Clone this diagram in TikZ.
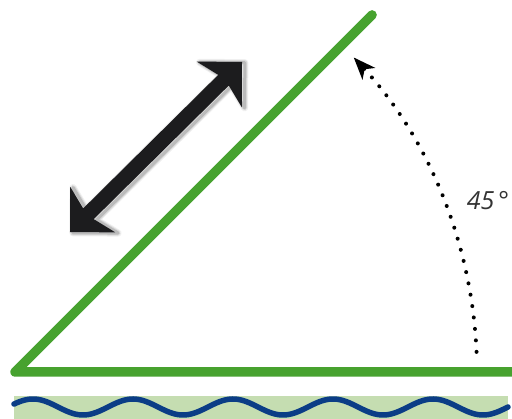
\documentclass[tikz,border=0pt]{standalone}
\usepackage{fontspec}
\setsansfont{Open Sans}
\usetikzlibrary{arrows.meta}
\definecolor{legGreen}{HTML}{47A22F}
\definecolor{bandGreen}{HTML}{C5DDB1}
\definecolor{waveBlue}{HTML}{0B3D86}
\definecolor{arrowBlack}{HTML}{1C1C1E}

\begin{document}
\begin{tikzpicture}[x=1pt,y=1pt,every node/.style={font=\sffamily\itshape}]
	\useasboundingbox (0,0) rectangle (512,419);
	\coordinate (O) at (15,47);
	% water strip
	\fill[bandGreen] (14,0) rectangle (508,23);
	\draw[waveBlue, line width=5.5pt, line cap=round] plot[domain=14:508, samples=200] (\x,{12+8*sin(3.6*(\x-8))});
	% the two legs
	\draw[legGreen, line width=9.5pt, line cap=round, line join=round] (512,47) -- (O) -- ++(45:505);
	% double arrow, with a soft shadow
	\begin{scope}[shift={(156,272)}, rotate=44.7]
		\foreach \w/\o in {7/0.06, 5/0.09, 3/0.14}
			\draw[black, line width=\w pt, opacity=\o, line join=round, shift={(1.5,-2.5)}] (121,0) -- (89,32) -- (95,7.5) -- (-95,7.5) -- (-89,32) -- (-121,0) -- (-89,-32) -- (-95,-7.5) -- (95,-7.5) -- (89,-32) -- cycle;
		\fill[arrowBlack] (121,0) -- (89,32) -- (95,7.5) -- (-95,7.5) -- (-89,32) -- (-121,0) -- (-89,-32) -- (-95,-7.5) -- (95,-7.5) -- (89,-32) -- cycle;
	\end{scope}
	% angle arc
	\draw[black, line width=4pt, line cap=round, dash pattern=on 0pt off 11.5pt, -{Stealth[length=22pt, width=17pt, inset=6pt]}] (O) ++(2.5:462) arc[start angle=2.5, end angle=42.8, radius=463];
	\node[text=black!80, font=\sffamily\itshape\fontsize{25}{27}\selectfont] (angle) at (488,218) {45\,\textdegree};
\end{tikzpicture}
\end{document}
